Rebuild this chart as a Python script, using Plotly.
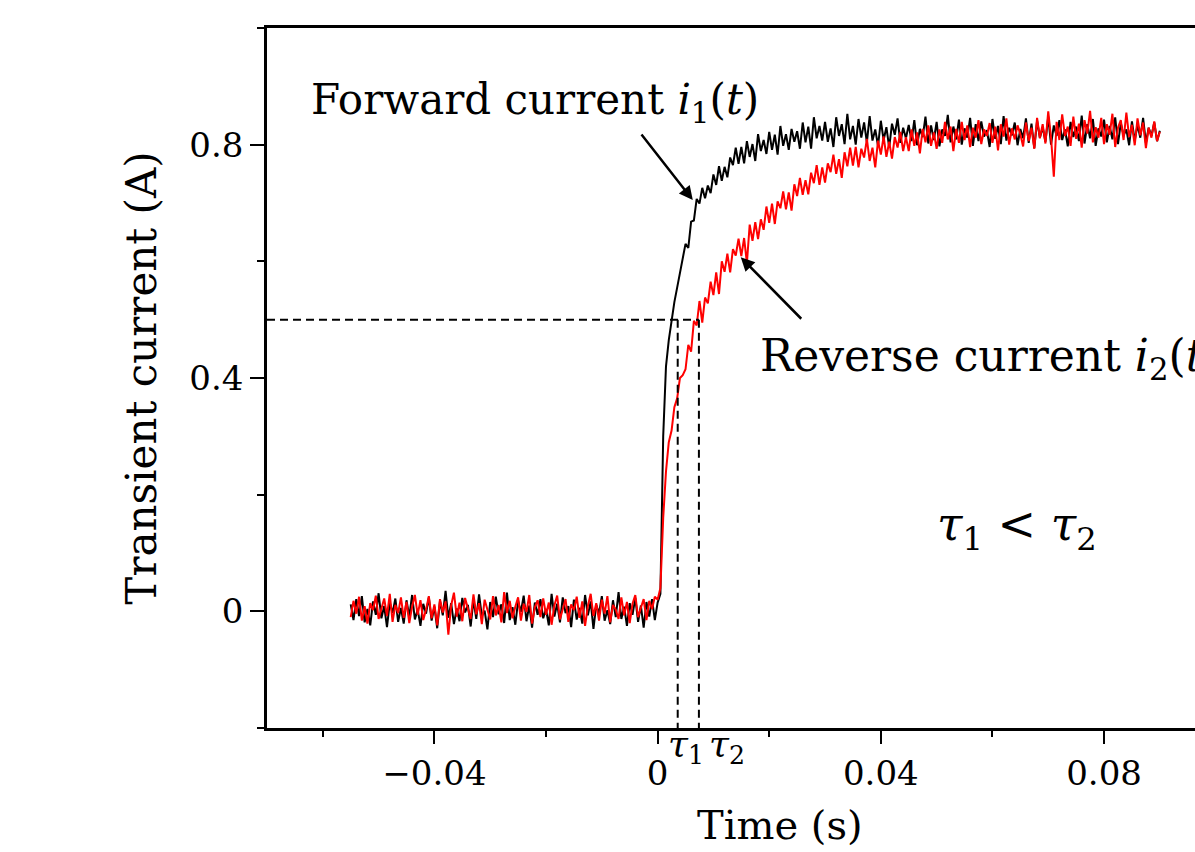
import plotly.graph_objects as go

# ---------------- data ----------------
TIME_START = -0.055   # s, first sample
TIME_STEP = 0.0005    # s, sample spacing

FORWARD_CURRENT = [
    0.012, -0.015, 0.021, -0.008, 0.026, -0.019, 0.004, -0.024, 0.017, -0.006,
    0.031, -0.012, 0.009, -0.027, 0.015, -0.003, 0.022, -0.018, 0.006, -0.021,
    0.019, -0.009, 0.028, -0.014, 0.003, -0.025, 0.013, -0.004, 0.024, -0.016,
    0.008, -0.029, 0.018, -0.007, 0.035, -0.011, 0.014, -0.022, 0.005, -0.017,
    0.023, -0.002, 0.011, -0.026, 0.020, -0.013, 0.029, -0.008, 0.001, -0.031,
    0.016, -0.010, 0.025, -0.005, 0.012, -0.020, 0.032, -0.015, 0.007, -0.023,
    0.018, -0.001, 0.027, -0.017, 0.010, -0.028, 0.015, -0.006, 0.021, -0.012,
    0.004, -0.024, 0.030, -0.009, 0.013, -0.019, 0.024, -0.003, 0.009, -0.027,
    0.020, -0.014, 0.006, -0.021, 0.028, -0.007, 0.017, -0.030, 0.011, -0.004,
    0.026, -0.016, 0.002, -0.022, 0.019, -0.010, 0.033, -0.013, 0.008, -0.025,
    0.014, -0.006, 0.023, -0.018, 0.010, -0.028, 0.016, -0.009, 0.021, -0.015,
    0.015, 0.030, 0.300, 0.420, 0.465, 0.500, 0.530, 0.555, 0.580, 0.600,
    0.630, 0.623, 0.668, 0.670, 0.707, 0.699, 0.726, 0.708, 0.730, 0.717,
    0.749, 0.731, 0.763, 0.738, 0.762, 0.744, 0.778, 0.765, 0.795, 0.767,
    0.796, 0.768, 0.806, 0.779, 0.801, 0.772, 0.818, 0.789, 0.808, 0.784,
    0.822, 0.791, 0.817, 0.783, 0.832, 0.798, 0.818, 0.791, 0.827, 0.805,
    0.823, 0.793, 0.838, 0.804, 0.831, 0.793, 0.847, 0.811, 0.832, 0.807,
    0.839, 0.805, 0.828, 0.796, 0.847, 0.815, 0.835, 0.801, 0.853, 0.809,
    0.832, 0.800, 0.844, 0.812, 0.838, 0.804, 0.849, 0.807, 0.826, 0.798,
    0.841, 0.808, 0.830, 0.795, 0.836, 0.817, 0.845, 0.803, 0.829, 0.811,
    0.834, 0.806, 0.842, 0.799, 0.827, 0.813, 0.848, 0.802, 0.833, 0.808,
    0.839, 0.797, 0.826, 0.815, 0.851, 0.804, 0.831, 0.809, 0.843, 0.800,
    0.828, 0.812, 0.846, 0.798, 0.835, 0.806, 0.840, 0.814, 0.825, 0.796,
    0.844, 0.810, 0.832, 0.801, 0.849, 0.807, 0.829, 0.816, 0.838, 0.799,
    0.827, 0.811, 0.845, 0.803, 0.836, 0.794, 0.841, 0.812, 0.830, 0.805,
    0.848, 0.800, 0.833, 0.815, 0.842, 0.808, 0.826, 0.797, 0.839, 0.813,
    0.831, 0.806, 0.850, 0.802, 0.835, 0.811, 0.844, 0.798, 0.828, 0.814,
    0.843, 0.804, 0.832, 0.809, 0.847, 0.801, 0.837, 0.816, 0.826, 0.799,
    0.840, 0.807, 0.834, 0.812, 0.846, 0.803, 0.829, 0.815, 0.838, 0.806, 0.824,
]

REVERSE_CURRENT = [
    -0.010, 0.018, -0.004, 0.025, -0.016, 0.009, -0.021, 0.014, 0.002, 0.027,
    -0.013, 0.006, 0.022, -0.008, 0.030, -0.018, 0.011, -0.003, 0.024, -0.011,
    0.016, -0.020, 0.008, 0.028, -0.006, 0.019, -0.015, 0.003, 0.026, -0.012,
    0.012, -0.024, 0.021, -0.002, 0.017, -0.040, 0.010, 0.032, -0.009, 0.015,
    -0.017, 0.023, 0.004, -0.013, 0.029, -0.005, 0.014, -0.022, 0.020, 0.001,
    -0.014, 0.026, -0.007, 0.011, -0.019, 0.033, -0.003, 0.018, -0.012, 0.008,
    0.024, -0.016, 0.013, -0.001, 0.028, -0.021, 0.007, 0.019, -0.010, 0.022,
    -0.006, 0.015, -0.023, 0.010, 0.027, -0.014, 0.005, 0.021, -0.018, 0.012,
    0.002, 0.025, -0.011, 0.017, -0.025, 0.009, 0.030, -0.008, 0.014, -0.016,
    0.020, -0.004, 0.026, -0.019, 0.011, 0.003, -0.013, 0.024, -0.007, 0.016,
    -0.020, 0.013, 0.028, -0.010, 0.006, 0.021, -0.015, 0.018, 0.004, 0.025,
    0.020, 0.040, 0.160, 0.240, 0.290, 0.310, 0.350, 0.365, 0.400, 0.405,
    0.415, 0.457, 0.445, 0.498, 0.490, 0.532, 0.495, 0.538, 0.528, 0.565,
    0.542, 0.581, 0.544, 0.600, 0.582, 0.613, 0.581, 0.621, 0.610, 0.639,
    0.609, 0.640, 0.597, 0.663, 0.635, 0.667, 0.638, 0.672, 0.654, 0.694,
    0.666, 0.699, 0.664, 0.703, 0.691, 0.720, 0.689, 0.718, 0.687, 0.732,
    0.712, 0.743, 0.714, 0.739, 0.715, 0.752, 0.734, 0.765, 0.731, 0.761,
    0.735, 0.768, 0.753, 0.783, 0.750, 0.775, 0.743, 0.787, 0.763, 0.795,
    0.764, 0.796, 0.761, 0.793, 0.778, 0.810, 0.772, 0.795, 0.761, 0.807,
    0.783, 0.814, 0.779, 0.805, 0.776, 0.813, 0.795, 0.822, 0.789, 0.813,
    0.789, 0.826, 0.798, 0.821, 0.785, 0.827, 0.804, 0.833, 0.798, 0.821,
    0.793, 0.826, 0.803, 0.839, 0.809, 0.831, 0.789, 0.827, 0.803, 0.839,
    0.808, 0.833, 0.796, 0.829, 0.812, 0.842, 0.801, 0.826, 0.815, 0.837,
    0.803, 0.831, 0.790, 0.835, 0.814, 0.845, 0.800, 0.828, 0.809, 0.833,
    0.818, 0.797, 0.838, 0.806, 0.829, 0.793, 0.846, 0.811, 0.835, 0.802,
    0.857, 0.812, 0.745, 0.839, 0.808, 0.852, 0.815, 0.831, 0.798, 0.848,
    0.810, 0.836, 0.795, 0.842, 0.819, 0.858, 0.804, 0.830, 0.812, 0.846,
    0.801, 0.835, 0.817, 0.853, 0.796, 0.829, 0.842, 0.808, 0.855, 0.813,
    0.834, 0.799, 0.845, 0.816, 0.838, 0.794, 0.829, 0.812, 0.840, 0.806, 0.822,
]

TAU_1 = 0.0036       # s
TAU_2 = 0.0074       # s
HALF_LEVEL = 0.5     # A

X_RANGE = [-0.07, 0.0963]
Y_RANGE = [-0.2, 1.0]
X_TICKS = [-0.04, 0, 0.04, 0.08]
X_TICK_TEXT = ["\u22120.04", "0", "0.04", "0.08"]
X_MINOR = [-0.06, -0.02, 0.02, 0.06]
Y_TICKS = [0, 0.4, 0.8]
Y_TICK_TEXT = ["0", "0.4", "0.8"]
Y_MINOR = [-0.2, 0.2, 0.6, 1.0]

FONT = "DejaVu Serif"

fig = go.Figure()

fig.add_trace(go.Scatter(
    y=FORWARD_CURRENT, x0=TIME_START, dx=TIME_STEP, mode="lines",
    line=dict(color="black", width=2), name="Forward current",
))
fig.add_trace(go.Scatter(
    y=REVERSE_CURRENT, x0=TIME_START, dx=TIME_STEP, mode="lines",
    line=dict(color="#ff0000", width=2), name="Reverse current",
))

dash_style = dict(color="black", width=2, dash="8px,5px")
fig.add_trace(go.Scatter(x=[X_RANGE[0], TAU_2], y=[HALF_LEVEL, HALF_LEVEL],
                         mode="lines", line=dash_style, hoverinfo="skip"))
fig.add_trace(go.Scatter(x=[TAU_1, TAU_1], y=[HALF_LEVEL, Y_RANGE[0]],
                         mode="lines", line=dash_style, hoverinfo="skip"))
fig.add_trace(go.Scatter(x=[TAU_2, TAU_2], y=[HALF_LEVEL, Y_RANGE[0]],
                         mode="lines", line=dash_style, hoverinfo="skip"))

axis_common = dict(
    showgrid=False, zeroline=False, showline=True, linecolor="black",
    linewidth=2.5, ticks="outside", tickcolor="black", tickwidth=2.2,
    tickfont=dict(family=FONT, size=34, color="black"),
)

fig.update_xaxes(
    range=X_RANGE, tickvals=X_TICKS, ticktext=X_TICK_TEXT, ticklen=13,
    mirror=True,
    minor=dict(tickvals=X_MINOR, ticks="outside", ticklen=6, tickwidth=2.2,
               tickcolor="black", showgrid=False),
    **axis_common,
)
fig.update_yaxes(
    range=Y_RANGE, tickvals=Y_TICKS, ticktext=Y_TICK_TEXT, ticklen=14,
    minor=dict(tickvals=Y_MINOR, ticks="outside", ticklen=7, tickwidth=2.2,
               tickcolor="black", showgrid=False),
    title=dict(text="Transient current (A)", standoff=20,
               font=dict(family=FONT, size=42, color="black")),
    **axis_common,
)

ann_font = dict(family=FONT, size=42, color="black")
annotations = [
    dict(x=0.022, y=-0.139, xref="x", yref="paper", text="Time (s)", showarrow=False,
         xanchor="center", yanchor="middle", font=dict(family=FONT, size=40, color="black")),
    dict(x=-0.0625, y=0.873, xref="x", yref="y",
         text="Forward current <i>i</i><sub>1</sub>(<i>t</i>)", showarrow=False,
         xanchor="left", yanchor="middle", font=ann_font),
    dict(x=0.0179, y=0.434, xref="x", yref="y",
         text="Reverse current <i>i</i><sub>2</sub>(<i>t</i>)", showarrow=False,
         xanchor="left", yanchor="middle", font=dict(family=FONT, size=44, color="black")),
    dict(x=0.0497, y=0.143, xref="x", yref="y",
         text="<i>\u03c4</i><sub>1</sub> &lt; <i>\u03c4</i><sub>2</sub>", showarrow=False,
         xanchor="left", yanchor="middle", font=dict(family=FONT, size=46, color="black")),
    dict(x=0.0015, y=-0.026, xref="x", yref="paper",
         text="<i>\u03c4</i><sub>1</sub>", showarrow=False,
         xanchor="left", yanchor="middle", font=dict(family=FONT, size=36, color="black")),
    dict(x=0.0088, y=-0.026, xref="x", yref="paper",
         text="<i>\u03c4</i><sub>2</sub>", showarrow=False,
         xanchor="left", yanchor="middle", font=dict(family=FONT, size=36, color="black")),
    # arrows
    dict(x=0.0063, y=0.705, ax=-0.0031, ay=0.82, xref="x", yref="y",
         axref="x", ayref="y", text="", showarrow=True, arrowhead=2,
         arrowsize=1.1, arrowwidth=2.5, arrowcolor="black", standoff=0),
    dict(x=0.0149, y=0.607, ax=0.026, ay=0.499, xref="x", yref="y",
         axref="x", ayref="y", text="", showarrow=True, arrowhead=2,
         arrowsize=1.1, arrowwidth=2.5, arrowcolor="black", standoff=0),
]

fig.update_layout(
    width=1195, height=852,
    margin=dict(l=267, r=0, t=28, b=124, pad=0),
    plot_bgcolor="white", paper_bgcolor="white",
    showlegend=False,
    annotations=annotations,
    font=dict(family=FONT, color="black"),
)

fig.write_html("out.html", config={"displayModeBar": False},
               post_script="document.body.style.margin='0';")
